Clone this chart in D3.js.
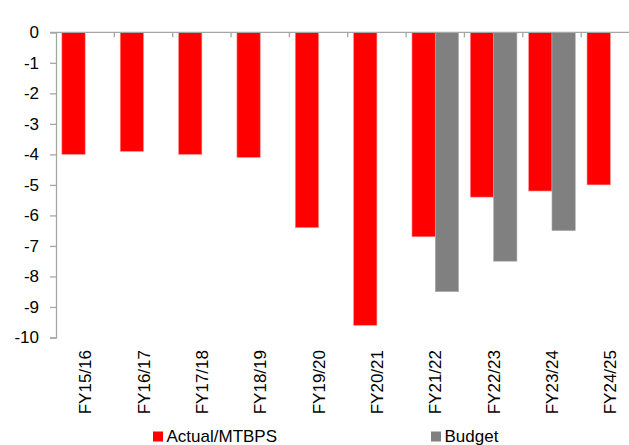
<!DOCTYPE html>
<html>
<head>
<meta charset="utf-8">
<script src="https://cdn.jsdelivr.net/npm/d3@7"></script>
<style>
  html, body { margin: 0; padding: 0; background: #fff; }
  svg { display: block; font-family: "Liberation Sans", Arial, sans-serif; }
</style>
</head>
<body>
<svg id="chart" width="629" height="445"></svg>
<script>
const categories = ["FY15/16","FY16/17","FY17/18","FY18/19","FY19/20","FY20/21","FY21/22","FY22/23","FY23/24","FY24/25"];
const actual = [-4.0, -3.9, -4.0, -4.1, -6.4, -9.6, -6.7, -5.4, -5.2, -5.0];
const budget = [null, null, null, null, null, null, -8.5, -7.5, -6.5, null];
const seriesNames = ["Actual/MTBPS", "Budget"];
const seriesColors = ["#ff0000", "#808080"];
const yTicks = [0, -1, -2, -3, -4, -5, -6, -7, -8, -9, -10];

const svg = d3.select("#chart");
const axisColor = "#a6a6a6";
const fontSize = 17;

const x0 = 56, step = 58.35;
const x = d3.scaleBand().domain(categories).range([x0, x0 + step * categories.length]).paddingInner(0).paddingOuter(0);
const xs = d3.scaleBand().domain(seriesNames).range([0, x.bandwidth()]).paddingInner(0).paddingOuter(0.252);
const y = d3.scaleLinear().domain([-10, 0]).range([337.5, 32.3]);

const series = [actual, budget];

// bars
series.forEach((vals, si) => {
  svg.append("g").selectAll("rect")
    .data(categories.map((c, i) => ({c, v: vals[i]})).filter(d => d.v != null))
    .join("rect")
    .attr("x", d => x(d.c) + xs(seriesNames[si]))
    .attr("y", d => y(0))
    .attr("width", xs.bandwidth())
    .attr("height", d => y(d.v) - y(0))
    .attr("fill", seriesColors[si])
    .attr("stroke", si === 0 ? "#ff9090" : "#b0b0b0")
    .attr("stroke-width", 0.6);
});

// y axis
const yAxis = svg.append("g").attr("transform", `translate(${x0},0)`)
  .call(d3.axisLeft(y).tickValues(yTicks).tickFormat(d => String(d)).tickSize(6).tickPadding(11));
yAxis.select(".domain").attr("stroke", axisColor).attr("stroke-width", 1.3);
yAxis.selectAll(".tick line").attr("stroke", axisColor).attr("stroke-width", 1.3);
yAxis.selectAll(".tick text").attr("font-size", fontSize).attr("fill", "#000")
  .attr("font-family", "Liberation Sans, Arial, sans-serif");

// x axis at zero (ticks at category boundaries)
const zeroY = y(0);
svg.append("line").attr("x1", x0 - 6).attr("x2", 629).attr("y1", zeroY).attr("y2", zeroY)
  .attr("stroke", axisColor).attr("stroke-width", 1.3);
svg.append("g").selectAll("line")
  .data(categories.slice(1))
  .join("line")
  .attr("x1", d => x(d)).attr("x2", d => x(d))
  .attr("y1", zeroY).attr("y2", zeroY + 5)
  .attr("stroke", axisColor).attr("stroke-width", 1.3);

// category labels at bottom, rotated
svg.append("g").selectAll("text")
  .data(categories)
  .join("text")
  .attr("transform", d => `translate(${x(d) + x.bandwidth() / 2 + 6},350) rotate(-90)`)
  .attr("text-anchor", "end")
  .attr("font-size", fontSize)
  .attr("fill", "#000")
  .text(d => d);

// legend
const legendItems = [{name: seriesNames[0], color: seriesColors[0], x: 153}, {name: seriesNames[1], color: seriesColors[1], x: 431}];
const lg = svg.append("g");
legendItems.forEach(it => {
  lg.append("rect").attr("x", it.x).attr("y", 431.5).attr("width", 10).attr("height", 10).attr("fill", it.color);
  lg.append("text").attr("x", it.x + 13.5).attr("y", 442.3).attr("font-size", fontSize).attr("fill", "#000").text(it.name);
});
</script>
</body>
</html>
